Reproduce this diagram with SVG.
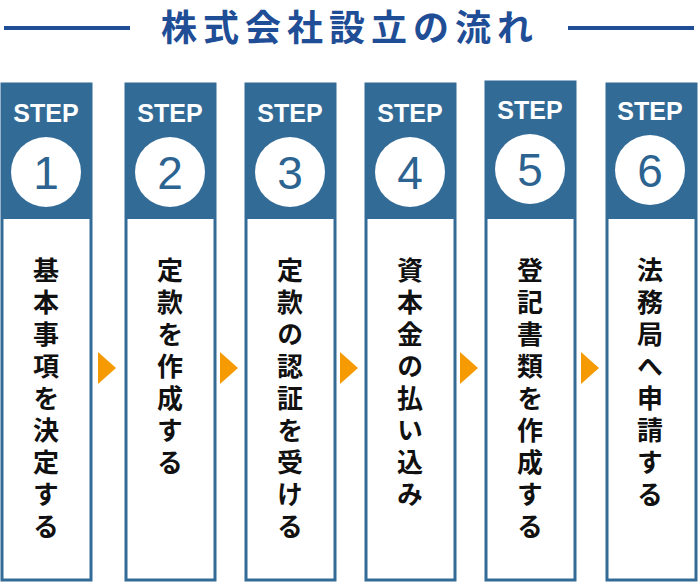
<svg xmlns="http://www.w3.org/2000/svg" width="698" height="585" viewBox="0 0 698 585">
<style>
.hd{fill:#336b97}
.pn{fill:#fff;stroke:#336b97;stroke-width:3}
.st{font:bold 25px "Liberation Sans",sans-serif;fill:#fff;text-anchor:middle}
.num{font:46px "Liberation Sans",sans-serif;fill:#2c6390;text-anchor:middle}
.vt{font:bold 26px "Noto Sans CJK JP",sans-serif;fill:#111;writing-mode:vertical-rl;letter-spacing:6px}
.ar{fill:#f59a00}
</style>
<rect width="698" height="585" fill="#fff"/>
<g id="title">
<line x1="4" y1="28" x2="130" y2="28" stroke="#1f4e96" stroke-width="4"/>
<line x1="568" y1="28" x2="694" y2="28" stroke="#1f4e96" stroke-width="4"/>
<text x="350" y="41" font-family="Noto Sans CJK JP,sans-serif" font-weight="bold" font-size="36" letter-spacing="6" fill="#1f4e96" text-anchor="middle">株式会社設立の流れ</text>
</g>
<g id="step1"><rect class="pn" x="2" y="84" width="89" height="496"/><rect class="hd" x="1" y="84" width="91" height="135"/><text class="st" x="46" y="122">STEP</text><circle cx="46" cy="172" r="35" fill="#fff"/><text class="num" x="46" y="189">1</text><text class="vt" x="46" y="257">基本事項を決定する</text></g>
<g id="step2"><rect class="pn" x="126" y="84" width="89" height="496"/><rect class="hd" x="125" y="84" width="91" height="135"/><text class="st" x="170" y="122">STEP</text><circle cx="170" cy="172" r="35" fill="#fff"/><text class="num" x="170" y="189">2</text><text class="vt" x="170" y="257">定款を作成する</text></g>
<g id="step3"><rect class="pn" x="246" y="84" width="89" height="496"/><rect class="hd" x="245" y="84" width="91" height="135"/><text class="st" x="290" y="122">STEP</text><circle cx="290" cy="172" r="35" fill="#fff"/><text class="num" x="290" y="189">3</text><text class="vt" x="290" y="257">定款の認証を受ける</text></g>
<g id="step4"><rect class="pn" x="366" y="84" width="89" height="496"/><rect class="hd" x="365" y="84" width="91" height="135"/><text class="st" x="410" y="122">STEP</text><circle cx="410" cy="172" r="35" fill="#fff"/><text class="num" x="410" y="189">4</text><text class="vt" x="410" y="257">資本金の払い込み</text></g>
<g id="step5"><rect class="pn" x="486" y="82" width="89" height="498"/><rect class="hd" x="485" y="82" width="91" height="137"/><text class="st" x="530" y="119">STEP</text><circle cx="530" cy="169" r="35" fill="#fff"/><text class="num" x="530" y="186">5</text><text class="vt" x="530" y="257">登記書類を作成する</text></g>
<g id="step6"><rect class="pn" x="607" y="84" width="89" height="496"/><rect class="hd" x="606" y="84" width="91" height="135"/><text class="st" x="650" y="120">STEP</text><circle cx="650" cy="170" r="35" fill="#fff"/><text class="num" x="650" y="187">6</text><text class="vt" x="650" y="257">法務局へ申請する</text></g>
<g id="connectors">
<polygon class="ar" points="98,352 116,368 98,384"/>
<polygon class="ar" points="220,352 238,368 220,384"/>
<polygon class="ar" points="340,352 358,368 340,384"/>
<polygon class="ar" points="460,352 478,368 460,384"/>
<polygon class="ar" points="581,352 599,368 581,384"/>
</g>
</svg>
